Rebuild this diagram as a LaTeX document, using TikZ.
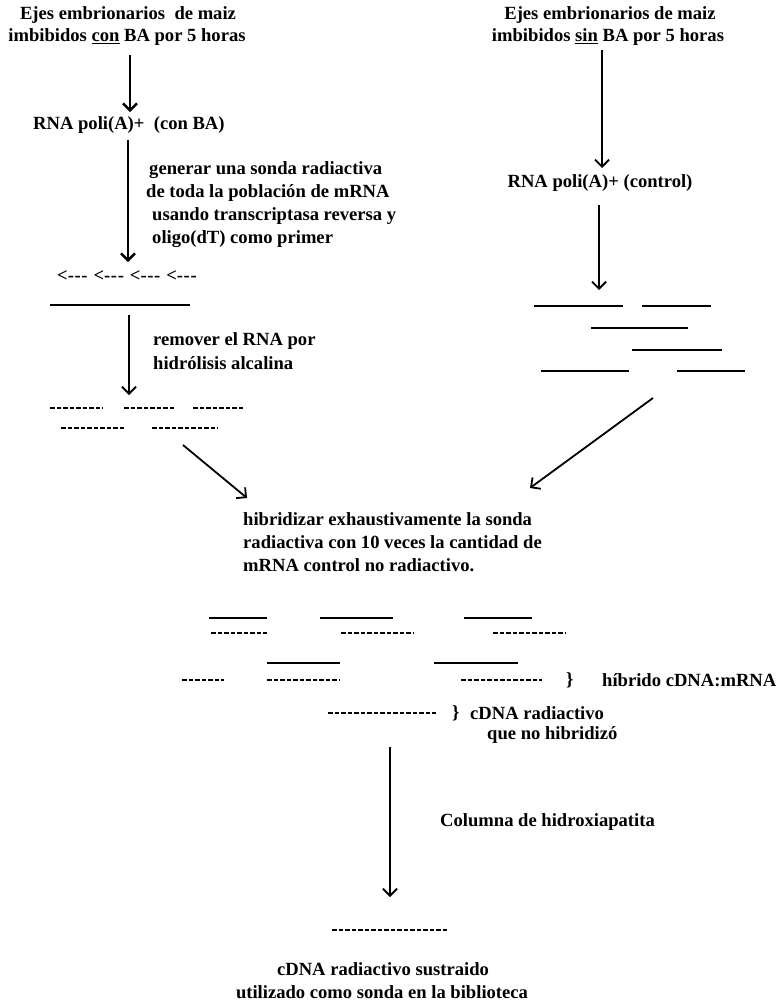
\documentclass[tikz,border=0pt]{standalone}
\usepackage{fontspec}
\setmainfont{Liberation Serif}
\usetikzlibrary{arrows.meta}
\newcommand\dfnt{\fontsize{18.6}{22.5}\selectfont\bfseries}
\newcommand\hy{-\kern0.6pt-\kern0.6pt-}
\begin{document}
\begin{tikzpicture}[x=1pt,y=-1pt,
  txt/.style={inner sep=0pt, font=\dfnt},
  arr/.style={line width=1.8pt, -{Straight Barb[length=7pt,width=14pt]}},
  tarr/.style={line width=2.4pt, -{Straight Barb[length=7pt,width=14pt]}},
  strand/.style={line width=1.6pt},
  dstrand/.style={line width=1.8pt, dash pattern=on 4.5pt off 2pt}]
\fill[white] (0,0) rectangle (783,1004);
\path[use as bounding box] (0,0) rectangle (783,1004);

% ---------- left column ----------
\node[txt] (t1a) at (128,15) {Ejes embrionarios\ \ de maiz};
\node[txt] (t1b) at (127,37) {imbibidos \underline{con} BA por 5 horas};
\coordinate (a1s) at (130,55); \coordinate (a1e) at (130,112);
\draw[tarr] (a1s) -- (a1e);
\node[txt,anchor=west] (rna1) at (33,125) {RNA poli(A)+\ \ (con BA)};
\coordinate (a2s) at (128,140); \coordinate (a2e) at (128,262);
\draw[tarr] (a2s) -- (a2e);
\node[txt,anchor=west] (g1) at (149,170) {generar una sonda radiactiva};
\node[txt,anchor=west] (g2) at (146,193) {de toda la población de mRNA};
\node[txt,anchor=west] (g3) at (152,216) {usando transcriptasa reversa y};
\node[txt,anchor=west] (g4) at (152,239) {oligo(dT) como primer};
\node[txt,anchor=west] (prm) at (57,276) {<\hy\hspace{6pt}<\hy\hspace{6pt}<\hy\hspace{6pt}<\hy};
\draw[strand] (50,305) -- (190,305);
\coordinate (a3s) at (129,315); \coordinate (a3e) at (129,395);
\draw[arr] (a3s) -- (a3e);
\node[txt,anchor=west] (r1) at (153,341) {remover el RNA por};
\node[txt,anchor=west] (r2) at (153,363) {hidrólisis alcalina};
\draw[dstrand] (50,408) -- (103,408);
\draw[dstrand] (124,408) -- (176,408);
\draw[dstrand] (193,408) -- (245,408);
\draw[dstrand] (61,428) -- (126,428);
\draw[dstrand] (152,428) -- (218,428);
\coordinate (d1s) at (183,445); \coordinate (d1e) at (247,498);
\draw[arr] (d1s) -- (d1e);

% ---------- right column ----------
\node[txt] (t2a) at (610,15) {Ejes embrionarios de maiz};
\node[txt] (t2b) at (608,37) {imbibidos \underline{sin} BA por 5 horas};
\coordinate (a4s) at (602,50); \coordinate (a4e) at (602,168);
\draw[arr] (a4s) -- (a4e);
\node[txt] (rna2) at (600,183) {RNA poli(A)+ (control)};
\coordinate (a5s) at (599,205); \coordinate (a5e) at (599,290);
\draw[arr] (a5s) -- (a5e);
\draw[strand] (534,306) -- (623,306);
\draw[strand] (642,306) -- (711,306);
\draw[strand] (591,328) -- (688,328);
\draw[strand] (632,350) -- (722,350);
\draw[strand] (541,371) -- (629,371);
\draw[strand] (677,371) -- (745,371);
\coordinate (d2s) at (653,398); \coordinate (d2e) at (530,488);
\draw[arr] (d2s) -- (d2e);

% ---------- hybridization ----------
\node[txt,anchor=west] (h1) at (243,519) {hibridizar exhaustivamente la sonda};
\node[txt,anchor=west] (h2) at (243,542) {radiactiva con 10 veces la cantidad de};
\node[txt,anchor=west] (h3) at (243,565) {mRNA control no radiactivo.};

\draw[strand] (209,618) -- (267,618);
\draw[strand] (320,618) -- (393,618);
\draw[strand] (464,618) -- (532,618);
\draw[dstrand] (211,633) -- (267,633);
\draw[dstrand] (341,633) -- (414,633);
\draw[dstrand] (493,633) -- (565,633);
\draw[strand] (267,663) -- (340,663);
\draw[strand] (434,663) -- (518,663);
\draw[dstrand] (182,680) -- (224,680);
\draw[dstrand] (267,680) -- (340,680);
\draw[dstrand] (461,680) -- (542,680);
\node[txt,anchor=west] (br1) at (566,680) {\}};
\node[txt,anchor=west] (hib) at (602,680) {híbrido cDNA:mRNA};

\draw[dstrand] (328,713) -- (436,713);
\node[txt,anchor=west] (br2) at (452,713) {\}};
\node[txt,anchor=west] (nh1) at (470,713) {cDNA radiactivo};
\node[txt,anchor=west] (nh2) at (487,735) {que no hibridizó};

\coordinate (a6s) at (390,747); \coordinate (a6e) at (390,897);
\draw[arr] (a6s) -- (a6e);
\node[txt,anchor=west] (col) at (440,822) {Columna de hidroxiapatita};
\draw[dstrand] (332,930) -- (448,930);
\node[txt] (b1) at (383,969) {cDNA radiactivo sustraido};
\node[txt] (b2) at (382,992) {utilizado como sonda en la biblioteca};
\end{tikzpicture}
\end{document}
